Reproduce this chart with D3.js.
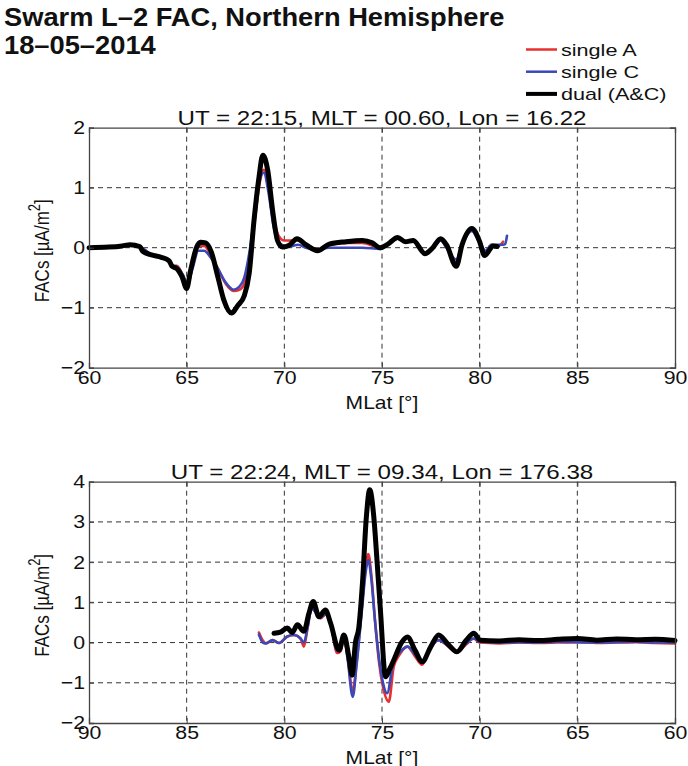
<!DOCTYPE html>
<html>
<head>
<meta charset="utf-8">
<script src="https://cdn.jsdelivr.net/npm/d3@7/dist/d3.min.js"></script>
<style>
  html, body { margin: 0; padding: 0; background: #fff; }
  svg { display: block; font-family: "Liberation Sans", Arial, Helvetica, sans-serif; }
</style>
</head>
<body>
<svg id="fig" width="688" height="766"></svg>
<script>
// ---- Pass 1: UT 22:15 (MLat increasing) ----
const topLatA = [60, 61.7, 62.1, 62.6, 63.2, 63.7, 64.1, 64.3, 64.5, 64.8, 65.05, 65.3, 65.6, 65.9, 66.2, 66.6, 67.0, 67.4, 67.7, 67.95, 68.2, 68.5, 68.75, 68.95, 69.2, 69.45, 69.7, 70.0, 70.3, 70.7, 71.1, 71.7, 72.3, 73.2, 74.0, 74.9, 75.3, 75.8, 76.2, 76.6, 77.2, 77.6, 78.0, 78.3, 78.8, 79.1, 79.6, 80.0, 80.3, 80.6, 80.9, 81.2];
const topFacA = [0, 0.03, 0.05, 0.02, -0.12, -0.16, -0.22, -0.3, -0.3, -0.45, -0.62, -0.3, 0.03, 0.03, -0.1, -0.35, -0.6, -0.72, -0.7, -0.6, -0.2, 0.5, 1.1, 1.3, 1.0, 0.5, 0.2, 0.12, 0.12, 0.12, 0.05, -0.03, 0.05, 0.08, 0.08, 0.0, 0.05, 0.15, 0.1, 0.1, -0.08, 0.0, 0.15, 0.02, -0.25, 0.05, 0.3, 0.1, -0.08, 0.05, 0.02, 0.1];

const topLatC = [60, 61.7, 62.1, 62.6, 63.2, 63.7, 64.1, 64.3, 64.5, 64.8, 65.05, 65.3, 65.6, 65.9, 66.2, 66.6, 67.0, 67.4, 67.7, 67.95, 68.2, 68.5, 68.75, 68.95, 69.2, 69.45, 69.7, 70.0, 70.3, 70.7, 71.1, 71.7, 72.3, 73.2, 74.0, 74.9, 75.3, 75.8, 76.2, 76.6, 77.2, 77.6, 78.0, 78.3, 78.8, 79.1, 79.6, 80.0, 80.3, 80.6, 80.9, 81.2, 81.3, 81.4];
const topFacC = [0, 0.03, 0.05, 0.02, -0.12, -0.16, -0.22, -0.3, -0.32, -0.45, -0.6, -0.35, -0.05, -0.05, -0.15, -0.35, -0.58, -0.7, -0.65, -0.5, -0.1, 0.6, 1.15, 1.25, 0.9, 0.35, 0.1, 0.03, 0.02, 0.05, 0.0, -0.03, 0.0, 0.0, 0.0, -0.02, 0.05, 0.15, 0.1, 0.1, -0.08, 0.0, 0.12, 0.0, -0.2, 0.05, 0.28, 0.08, -0.05, 0.05, 0.05, 0.05, 0.06, 0.2];

const topLatAC = [60, 61, 61.7, 62.1, 62.6, 62.75, 63.2, 63.7, 64.1, 64.25, 64.5, 64.77, 65.0, 65.2, 65.5, 65.7, 65.97, 66.25, 66.6, 66.9, 67.3, 67.6, 67.95, 68.2, 68.45, 68.7, 68.9, 69.15, 69.4, 69.65, 69.9, 70.25, 70.65, 71.1, 71.7, 72.3, 73.15, 74.0, 74.5, 74.9, 75.3, 75.8, 76.2, 76.6, 77.2, 77.6, 78.0, 78.3, 78.8, 79.1, 79.6, 80.0, 80.25, 80.7, 80.9];
const topFacAC = [0, 0.01, 0.03, 0.05, 0.02, -0.06, -0.12, -0.16, -0.22, -0.31, -0.35, -0.49, -0.68, -0.38, 0.0, 0.09, 0.08, -0.06, -0.49, -0.87, -1.09, -0.97, -0.8, -0.43, 0.46, 1.17, 1.54, 1.29, 0.62, 0.12, 0.01, 0.04, 0.15, 0.05, -0.05, 0.06, 0.1, 0.12, 0.08, 0.0, 0.06, 0.17, 0.1, 0.12, -0.1, 0.0, 0.15, 0.05, -0.31, 0.05, 0.32, 0.1, -0.13, 0.03, 0.02];

// ---- Pass 2: UT 22:24 (MLat decreasing) ----
const botLatA = [81.3, 81.1, 80.95, 80.6, 80.27, 79.85, 79.5, 79.17, 79.0, 78.8, 78.6, 78.4, 78.15, 77.85, 77.6, 77.3, 77.1, 76.95, 76.75, 76.5, 76.3, 76.0, 75.85, 75.7, 75.55, 75.35, 75.15, 74.95, 74.65, 74.4, 74.1, 73.7, 73.3, 72.95, 72.6, 72.1, 71.6, 71.16, 70.7, 70.3, 70.0, 69.0, 68.0, 67.0, 66.0, 65.0, 64.0, 63.0, 62.0, 61.0, 60.0];
const botFacA = [0.25, 0.05, -0.02, 0.06, -0.01, 0.15, 0.19, 0.1, -0.1, 0.4, 0.89, 0.75, 0.6, 0.72, 0.4, -0.26, -0.2, 0.15, -0.4, -1.22, -0.5, 1.06, 1.8, 2.2, 1.7, 0.5, -0.5, -1.1, -1.47, -0.6, -0.3, -0.1, -0.35, -0.55, -0.2, 0.06, -0.1, -0.25, -0.05, 0.1, 0.0, -0.02, 0.0, -0.01, 0.0, 0.01, -0.01, 0.0, 0.01, -0.01, -0.02];

const botLatC = [81.3, 81.1, 80.95, 80.6, 80.27, 79.85, 79.5, 79.17, 79.0, 78.8, 78.6, 78.4, 78.15, 77.85, 77.6, 77.3, 77.1, 76.95, 76.75, 76.5, 76.3, 76.0, 75.85, 75.7, 75.55, 75.35, 75.15, 74.95, 74.74, 74.4, 74.1, 73.7, 73.3, 72.95, 72.6, 72.1, 71.6, 71.16, 70.7, 70.3, 70.0, 69.0, 68.0, 67.0, 66.0, 65.0, 64.0, 63.0, 62.0, 61.0, 60.0];
const botFacC = [0.2, 0.0, -0.02, 0.06, -0.01, 0.15, 0.19, 0.1, 0.0, 0.4, 0.85, 0.75, 0.62, 0.72, 0.4, -0.2, -0.15, 0.15, -0.45, -1.35, -0.55, 0.95, 1.7, 2.05, 1.6, 0.5, -0.4, -1.0, -1.26, -0.44, -0.25, -0.1, -0.3, -0.5, -0.18, 0.06, -0.08, -0.22, -0.03, 0.1, 0.02, 0.0, 0.01, 0.0, 0.02, 0.01, 0.0, 0.01, 0.02, 0.0, 0.0];

const botLatAC = [80.53, 80.2, 79.85, 79.6, 79.33, 79.0, 78.74, 78.52, 78.23, 77.9, 77.63, 77.2, 76.95, 76.7, 76.53, 76.36, 76.19, 76.0, 75.8, 75.63, 75.42, 75.25, 75.08, 74.82, 74.6, 74.4, 74.0, 73.7, 73.3, 72.95, 72.5, 72.1, 71.6, 71.16, 70.7, 70.3, 69.97, 69.0, 68.0, 67.0, 66.0, 65.0, 64.0, 63.0, 62.0, 61.0, 60.0];
const botFacAC = [0.23, 0.26, 0.36, 0.25, 0.44, 0.28, 0.73, 1.02, 0.64, 0.81, 0.48, -0.19, 0.19, -0.35, -0.81, 0.0, 0.36, 1.48, 3.13, 3.8, 3.13, 2.0, 0.8, -0.85, -0.65, -0.44, 0.0, 0.14, -0.2, -0.48, -0.1, 0.19, -0.05, -0.23, 0.05, 0.23, 0.06, 0.04, 0.07, 0.05, 0.08, 0.1, 0.06, 0.09, 0.07, 0.08, 0.05];

// ---- Axis ticks and labels ----
const latTicks = [60, 65, 70, 75, 80, 85, 90];
const topFacTicks = [-2, -1, 0, 1, 2];
const botFacTicks = [-2, -1, 0, 1, 2, 3, 4];
const seriesNames = ["single A", "single C", "dual (A&C)"];
const seriesColors = ["#e8302e", "#3b48b8", "#000000"];
const seriesWidths = [2.6, 2.6, 5];
const topTitle = "UT = 22:15, MLT = 00.60, Lon = 16.22";
const botTitle = "UT = 22:24, MLT = 09.34, Lon = 176.38";

const svg = d3.select("#fig");
// glyphs in this figure are drawn slightly wide
const SX = 1.24;

// text placed at (x, y) and widened horizontally by sx
function wideText(parent, x, y, size, sx, str, anchor) {
  return parent.append("text")
    .attr("transform", `translate(${x},${y}) scale(${sx},1)`)
    .attr("font-size", size).attr("text-anchor", anchor || "start")
    .attr("fill", "#111").text(str);
}

// Figure title
wideText(svg, 4, 26, 26, 1.05, "Swarm L\u20132 FAC, Northern Hemisphere").attr("font-weight", "bold");
wideText(svg, 4, 54, 26, 1.05, "18\u201305\u20132014").attr("font-weight", "bold");

// Legend
const legend = svg.append("g").attr("transform", "translate(526,49.5)");
seriesNames.forEach((name, i) => {
  const g = legend.append("g").attr("transform", `translate(0,${i * 22.2})`);
  g.append("line").attr("x1", 0).attr("x2", 31).attr("y1", 0).attr("y2", 0)
    .attr("stroke", seriesColors[i]).attr("stroke-width", i === 2 ? 4 : 2.5);
  wideText(g, 35, 6, 17, SX + 0.03, name);
});

function panel(cfg) {
  const x = d3.scaleLinear().domain(cfg.xDomain).range([cfg.left, cfg.right]);
  const y = d3.scaleLinear().domain(cfg.yDomain).range([cfg.bottom, cfg.top]);
  const g = svg.append("g");

  // dashed grid
  const grid = g.append("g").attr("stroke", "#333").attr("stroke-width", 1)
    .attr("stroke-dasharray", "5,4");
  grid.selectAll(".gx").data(latTicks.filter(d => d !== cfg.xDomain[0] && d !== cfg.xDomain[1]))
    .join("line").attr("x1", d => x(d)).attr("x2", d => x(d))
    .attr("y1", cfg.top).attr("y2", cfg.bottom);
  grid.selectAll(".gy").data(cfg.yTicks.filter(d => d !== cfg.yDomain[0] && d !== cfg.yDomain[1]))
    .join("line").attr("y1", d => y(d)).attr("y2", d => y(d))
    .attr("x1", cfg.left).attr("x2", cfg.right);

  // curves: single A, single C, dual
  const line = d3.line().x(d => x(d[0])).y(d => y(d[1])).curve(d3.curveMonotoneX);
  cfg.series.forEach((s, i) => {
    const pts = s.lat.map((v, k) => [v, s.fac[k]]);
    g.append("path").datum(pts).attr("d", line).attr("fill", "none")
      .attr("stroke", seriesColors[i]).attr("stroke-width", seriesWidths[i])
      .attr("stroke-linejoin", "round").attr("stroke-linecap", "round");
  });

  // axes with inward ticks on all sides
  const fmt = d3.format("d");
  const tickSX = 1.15;
  const ax = g.append("g").attr("transform", `translate(0,${cfg.bottom})`)
    .call(d3.axisBottom(x).tickValues(latTicks).tickSize(-5).tickPadding(0).tickFormat(fmt));
  const ay = g.append("g").attr("transform", `translate(${cfg.left},0)`)
    .call(d3.axisLeft(y).tickValues(cfg.yTicks).tickSize(-5).tickPadding(4).tickFormat(fmt));
  g.append("g").attr("transform", `translate(0,${cfg.top})`)
    .call(d3.axisTop(x).tickValues(latTicks).tickSize(-5).tickFormat(""));
  g.append("g").attr("transform", `translate(${cfg.right},0)`)
    .call(d3.axisRight(y).tickValues(cfg.yTicks).tickSize(-5).tickFormat(""));
  g.selectAll(".domain").attr("stroke", "#444").attr("stroke-width", 1.3);
  g.selectAll(".tick line").attr("stroke", "#444");
  g.selectAll(".tick text").attr("fill", "#111").attr("font-size", 18.5)
    .attr("font-family", "Liberation Sans, Arial, sans-serif");
  ax.selectAll(".tick text").attr("y", 16).attr("dy", 0)
    .attr("transform", `scale(${tickSX},1)`);
  ay.selectAll(".tick text").attr("x", -4 / tickSX)
    .attr("transform", `scale(${tickSX},1)`);

  // titles and labels
  const cx = (cfg.left + cfg.right) / 2;
  wideText(g, cx, cfg.top - 3, 19.5, SX, cfg.title, "middle");
  wideText(g, cx, cfg.bottom + 41, 18, 1.17, "MLat [\u00b0]", "middle");
  const yl = g.append("text")
    .attr("transform", `translate(49,${(cfg.top + cfg.bottom) / 2 + 3}) scale(${SX},1) rotate(-90)`)
    .attr("text-anchor", "middle").attr("font-size", 17).attr("fill", "#111");
  yl.append("tspan").text("FACs [\u00b5A/m");
  yl.append("tspan").attr("dy", -7).attr("font-size", 13).text("2");
  yl.append("tspan").attr("dy", 7).text("]");
}

panel({
  left: 89, right: 675, top: 127.7, bottom: 367.7,
  xDomain: [60, 90], yDomain: [-2, 2], yTicks: topFacTicks, title: topTitle,
  series: [
    { lat: topLatA, fac: topFacA },
    { lat: topLatC, fac: topFacC },
    { lat: topLatAC, fac: topFacAC }
  ]
});

panel({
  left: 89, right: 675, top: 481.7, bottom: 723,
  xDomain: [90, 60], yDomain: [-2, 4], yTicks: botFacTicks, title: botTitle,
  series: [
    { lat: botLatA, fac: botFacA },
    { lat: botLatC, fac: botFacC },
    { lat: botLatAC, fac: botFacAC }
  ]
});
</script>
</body>
</html>
